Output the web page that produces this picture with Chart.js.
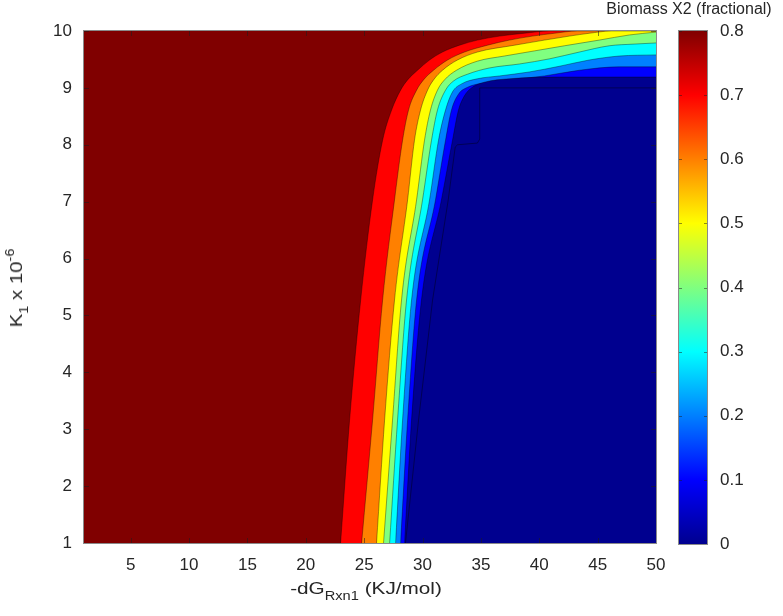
<!DOCTYPE html>
<html>
<head>
<meta charset="utf-8">
<script src="https://cdn.jsdelivr.net/npm/chart.js@4.4.1/dist/chart.umd.min.js"></script>
<style>
body{margin:0;background:#fff;}
#wrap{position:relative;width:783px;height:616px;overflow:hidden;font-family:'Liberation Sans',Arial,sans-serif;color:#262626;}
#main{position:absolute;left:0;top:0;}
#cbar{position:absolute;left:678px;top:0;}
.lbl{position:absolute;white-space:nowrap;font-size:17px;line-height:1;}
.lbl sub{font-size:12px;vertical-align:-6px;}
.lbl sup{font-size:12px;vertical-align:8px;}
</style>
</head>
<body>
<div id="wrap">
<canvas id="main" width="783" height="616"></canvas>
<canvas id="cbar" width="105" height="616"></canvas>
<div class="lbl" id="xt" style="left:366px;top:591px;transform:translate(-50%,-50%) scaleX(1.22);">-dG<sub>Rxn1</sub> (KJ/mol)</div>
<div class="lbl" id="yt" style="left:17px;top:288px;transform:translate(-50%,-50%) rotate(-90deg) scaleX(1.2);">K<sub>1</sub> x 10<sup>-6</sup></div>
<div class="lbl" id="ct" style="left:689px;top:9px;font-size:16px;transform:translate(-50%,-50%);">Biomass X2 (fractional)</div>
</div>
<script>
// tick values
const xTicks = [5,10,15,20,25,30,35,40,45,50];
const yTicks = [1,2,3,4,5,6,7,8,9,10];
const cbTicks = [0,0.1,0.2,0.3,0.4,0.5,0.6,0.7,0.8];

// band colours, top band (0.8) down to bottom band (0)
const bandColors = ['#800000','#ff0000','#ff8000','#ffff00','#80ff80','#00ffff','#0080ff','#0000ff','#00008f'];

// contour edges, [ -dG , K1 ]
// everything right/below an edge is in the next lower band
const edge75 = [[22.98,1],[23.75,3.16],[24.70,5.27],[25.72,7.03],[26.58,8.08],[27.35,8.61],[28.12,8.96],[28.72,9.14],[29.57,9.31],[30.60,9.49],[31.71,9.63],[33.16,9.75],[34.70,9.84],[36.59,9.91],[38.72,9.96],[40.86,10],[50,10]];
const edge65 = [[24.78,1],[25.72,3.16],[26.58,5.27],[27.60,7.03],[28.29,8.08],[28.80,8.61],[29.49,8.96],[30.08,9.14],[30.94,9.31],[32.14,9.49],[33.59,9.63],[35.56,9.75],[37.44,9.84],[39.41,9.91],[41.29,9.96],[43.26,10],[50,10]];
const edge55 = [[26.06,1],[26.75,3.16],[27.60,5.27],[28.72,7.03],[29.31,8.08],[29.83,8.61],[30.43,8.96],[30.94,9.14],[31.71,9.31],[32.99,9.49],[34.70,9.63],[37.87,9.75],[40.44,9.84],[42.57,9.91],[44.28,9.96],[46.17,10],[50,10]];
const edge45 = [[26.66,1],[27.43,3.16],[28.20,5.27],[29.49,7.03],[30.17,8.08],[30.68,8.61],[31.28,8.96],[31.88,9.14],[32.91,9.31],[34.70,9.47],[37.01,9.56],[39.58,9.65],[42.15,9.74],[45.14,9.84],[47.71,9.93],[50,9.98]];
const edge35 = [[27.18,1],[27.86,3.16],[28.63,5.27],[30.0,7.03],[30.77,8.08],[31.28,8.61],[31.97,8.96],[32.65,9.12],[33.85,9.24],[35.73,9.35],[38.30,9.42],[40.86,9.51],[43.43,9.63],[45.99,9.74],[48.13,9.77],[50,9.79]];
const edge25 = [[27.69,1],[28.29,3.16],[29.06,5.27],[30.60,7.03],[31.37,8.08],[31.97,8.61],[32.57,8.93],[33.34,9.07],[34.70,9.16],[36.59,9.21],[39.15,9.28],[41.72,9.38],[44.28,9.49],[46.85,9.56],[50,9.58]];
const edge15 = [[28.12,1],[28.72,3.16],[29.49,5.27],[31.11,7.03],[31.97,8.08],[32.48,8.61],[33.08,8.89],[33.85,9.01],[35.05,9.08],[37.44,9.14],[40.44,9.21],[43.43,9.31],[46.85,9.37],[50,9.37]];
const edge05 = [[28.46,1],[29.06,3.16],[29.91,5.27],[31.62,7.03],[32.57,8.08],[33.08,8.61],[33.59,8.86],[34.19,9.0],[35.30,9.10],[37.44,9.16],[41.72,9.19],[50,9.19]];
// contour line inside the dark blue region
const innerLine = [[28.54,1],[29.66,3.16],[30.86,5.27],[32.2,7.03],[32.8,7.96],[33.0,8.0],[34.7,8.03],[34.9,8.1],[34.9,9.0],[50,9.0]];

const edges = [edge75,edge65,edge55,edge45,edge35,edge25,edge15,edge05];

var font = {family:"'Liberation Sans', Arial, sans-serif", size:17};
Chart.defaults.color = '#262626';

var datasets = [];
// top band covers the whole plot
datasets.push({data:[[1,10],[50,10]], showLine:true, fill:'start', backgroundColor:bandColors[0], borderWidth:0, pointRadius:0, order:100});
edges.forEach(function(e,i){
  datasets.push({
    data:e, showLine:true, fill:'start',
    backgroundColor:bandColors[i+1],
    borderColor:'rgba(0,0,0,0.45)', borderWidth:0.8,
    pointRadius:0, cubicInterpolationMode:'monotone',
    order:90-i
  });
});
datasets.push({data:innerLine, showLine:true, fill:false, borderColor:'rgba(0,0,0,0.5)', borderWidth:0.8, pointRadius:0, tension:0, order:1});

// box and inward ticks like the original
const frame = {
  id:'frame',
  afterDatasetsDraw(chart){
    const c = chart.ctx, a = chart.chartArea;
    const xs = chart.scales.x, ys = chart.scales.y;
    c.save();
    c.strokeStyle = 'rgba(30,30,30,0.55)';
    c.lineWidth = 1;
    c.beginPath();
    xTicks.forEach(function(v){
      var p = Math.round(xs.getPixelForValue(v))+0.5;
      c.moveTo(p,a.bottom); c.lineTo(p,a.bottom-5);
      c.moveTo(p,a.top); c.lineTo(p,a.top+5);
    });
    yTicks.forEach(function(v){
      var p = Math.round(ys.getPixelForValue(v))+0.5;
      c.moveTo(a.left,p); c.lineTo(a.left+5,p);
      c.moveTo(a.right,p); c.lineTo(a.right-5,p);
    });
    c.stroke();
    c.strokeStyle = '#8a8a8a';
    c.strokeRect(a.left-0.5,a.top-0.5,a.right-a.left+1,a.bottom-a.top+1);
    c.restore();
  }
};

new Chart(document.getElementById('main'), {
  type:'scatter',
  data:{datasets:datasets},
  options:{
    responsive:false, animation:false, devicePixelRatio:1,
    layout:{padding:{top:31,right:127,left:0,bottom:0}},
    plugins:{legend:{display:false}, tooltip:{enabled:false}},
    scales:{
      x:{
        type:'linear', min:1, max:50,
        grid:{display:false, drawTicks:false}, border:{display:false},
        ticks:{font:font, padding:12, maxRotation:0},
        afterBuildTicks:function(s){ s.ticks = xTicks.map(function(v){return {value:v};}); },
        afterFit:function(s){ s.height = 73; }
      },
      y:{
        type:'linear', min:1, max:10,
        grid:{display:false, drawTicks:false}, border:{display:false},
        ticks:{font:font, padding:12},
        afterBuildTicks:function(s){ s.ticks = yTicks.map(function(v){return {value:v};}); },
        afterFit:function(s){ s.width = 84; }
      }
    }
  },
  plugins:[frame]
});

// colour bar
const cbFrame = {
  id:'cbFrame',
  afterDatasetsDraw(chart){
    const c = chart.ctx, a = chart.chartArea, ys = chart.scales.y;
    c.save();
    c.strokeStyle = 'rgba(30,30,30,0.5)';
    c.beginPath();
    cbTicks.forEach(function(v){
      var p = Math.round(ys.getPixelForValue(v))+0.5;
      c.moveTo(a.left,p); c.lineTo(a.left+4,p);
      c.moveTo(a.right,p); c.lineTo(a.right-4,p);
    });
    c.stroke();
    c.strokeStyle = '#8a8a8a';
    c.strokeRect(a.left+0.5,a.top-0.5,a.right-a.left-1,a.bottom-a.top+1);
    c.restore();
  }
};

new Chart(document.getElementById('cbar'), {
  type:'bar',
  data:{
    labels:['cb'],
    datasets:[{
      data:[[0,0.8]],
      backgroundColor:function(ctx){
        var area = ctx.chart.chartArea;
        if(!area) return '#000080';
        var g = ctx.chart.ctx.createLinearGradient(0,area.bottom,0,area.top);
        g.addColorStop(0,'#00008f');
        g.addColorStop(0.125,'#0000ff');
        g.addColorStop(0.375,'#00ffff');
        g.addColorStop(0.625,'#ffff00');
        g.addColorStop(0.875,'#ff0000');
        g.addColorStop(1,'#800000');
        return g;
      },
      borderWidth:0, barPercentage:1, categoryPercentage:1
    }]
  },
  options:{
    responsive:false, animation:false, devicePixelRatio:1,
    layout:{padding:{top:31,bottom:72,left:0,right:0}},
    plugins:{legend:{display:false}, tooltip:{enabled:false}},
    scales:{
      x:{display:false},
      y:{
        position:'right', min:0, max:0.8,
        grid:{display:false, drawTicks:false}, border:{display:false},
        ticks:{font:font, padding:12, callback:function(v){ return v===0 ? '0' : v.toFixed(1); }},
        afterBuildTicks:function(s){ s.ticks = cbTicks.map(function(v){return {value:v};}); },
        afterFit:function(s){ s.width = 75; }
      }
    }
  },
  plugins:[cbFrame]
});
</script>
</body>
</html>
